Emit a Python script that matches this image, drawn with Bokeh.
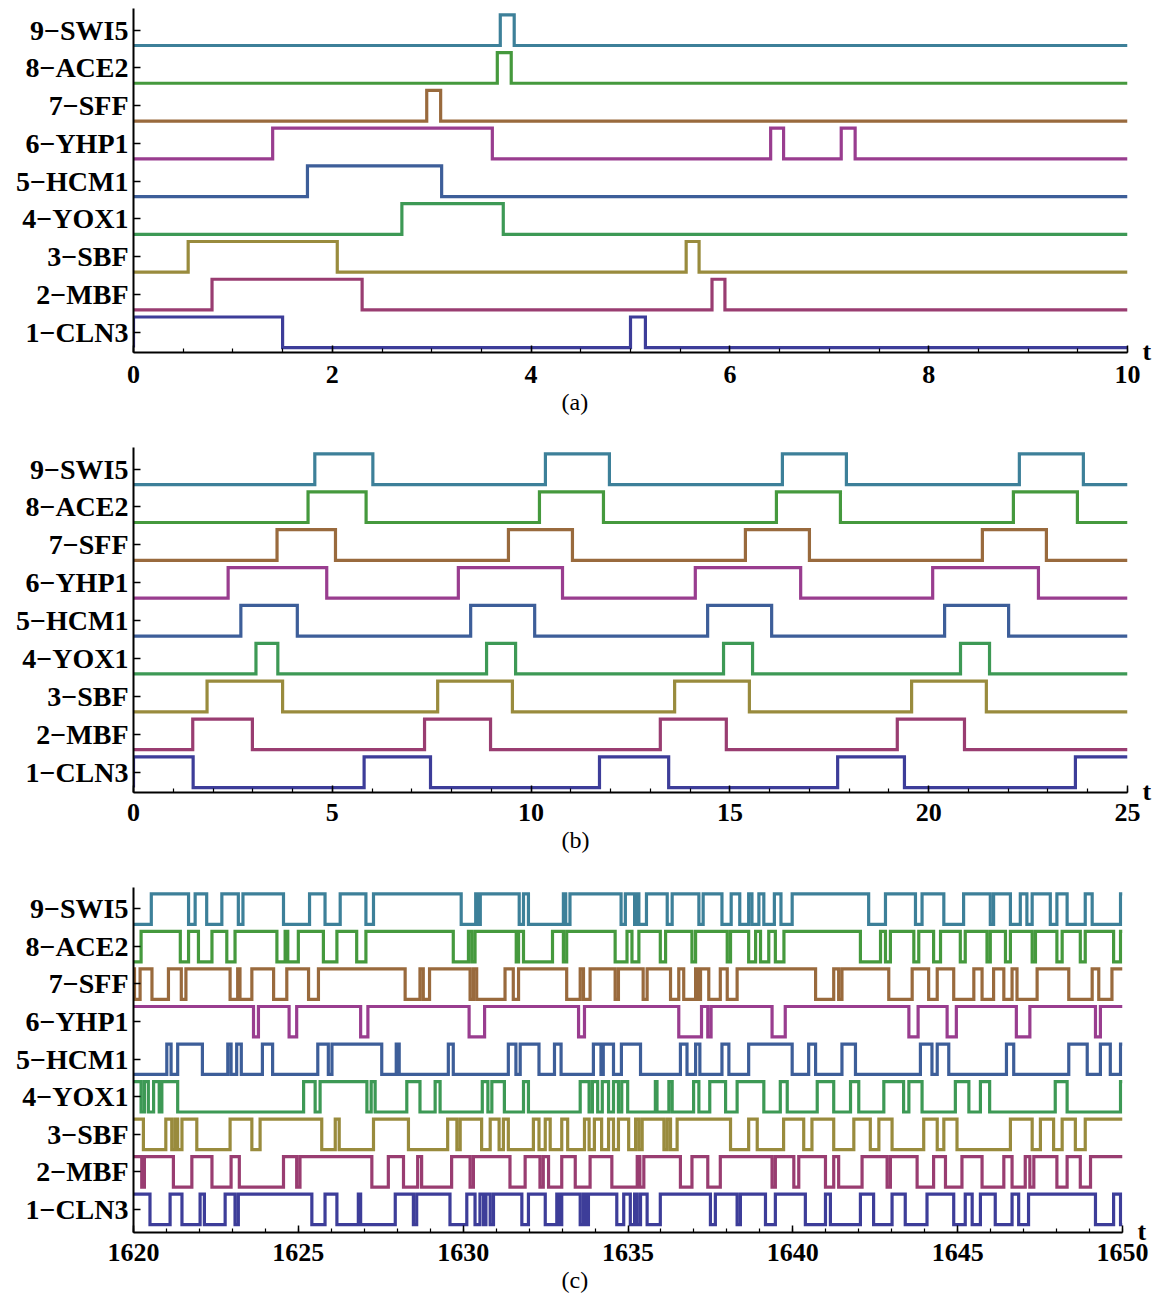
from bokeh.plotting import figure
from bokeh.models import Range1d, FixedTicker, Title, LinearAxis, PrintfTickFormatter
from bokeh.layouts import column
from bokeh.embed import file_html
from bokeh.resources import INLINE

# ---------------- data ----------------
gene_labels = ["1\u2212CLN3", "2\u2212MBF", "3\u2212SBF", "4\u2212YOX1", "5\u2212HCM1",
               "6\u2212YHP1", "7\u2212SFF", "8\u2212ACE2", "9\u2212SWI5"]
gene_colors = ["#3d3d99", "#993d71", "#998b3d", "#3d9955", "#3d5e99",
               "#993d8f", "#996a3d", "#45993d", "#3d8099"]

# panel (a): initial states and switching times (t in 0..10)
a_init = [1, 0, 0, 0, 0, 0, 0, 0, 0]
a_switch = [
    [1.50, 5.00, 5.15],
    [0.79, 2.30, 5.82, 5.95],
    [0.55, 2.05, 5.56, 5.69],
    [2.70, 3.72],
    [1.75, 3.10],
    [1.40, 3.61, 6.41, 6.54, 7.12, 7.26],
    [2.95, 3.09],
    [3.66, 3.80],
    [3.69, 3.83],
]

# panel (b): t in 0..25
b_init = [1, 0, 0, 0, 0, 0, 0, 0, 0]
b_switch = [
    [1.50, 5.80, 7.47, 11.72, 13.46, 17.71, 19.39, 23.69],
    [1.49, 2.99, 7.32, 8.98, 13.25, 14.91, 19.21, 20.90],
    [1.85, 3.75, 7.65, 9.53, 13.61, 15.49, 19.57, 21.45],
    [3.08, 3.63, 8.88, 9.61, 14.84, 15.57, 20.80, 21.53],
    [2.70, 4.12, 8.48, 10.09, 14.44, 16.05, 20.40, 22.01],
    [2.38, 4.86, 8.17, 10.79, 14.13, 16.78, 20.10, 22.76],
    [3.61, 5.08, 9.43, 11.04, 15.39, 17.00, 21.35, 22.96],
    [4.39, 5.85, 10.21, 11.82, 16.17, 17.78, 22.13, 23.74],
    [4.56, 6.02, 10.36, 11.97, 16.32, 17.93, 22.28, 23.89],
]

# panel (c): t in 1620..1650
c_init = [1, 1, 1, 1, 0, 1, 1, 0, 0]
c_switch = [
    # CLN3
    [1620.50, 1621.11, 1621.47, 1622.02, 1622.15, 1622.78, 1623.08, 1623.18, 1625.41, 1625.81,
     1626.17, 1626.82, 1626.89, 1627.94, 1628.49, 1628.59, 1629.60, 1630.11, 1630.36, 1630.51,
     1630.62, 1630.69, 1630.82, 1630.92, 1631.78, 1631.98, 1632.49, 1632.84, 1632.91, 1632.99,
     1633.55, 1633.65, 1633.72, 1633.80, 1634.66, 1634.87, 1635.07, 1635.20, 1635.28, 1635.38,
     1635.58, 1635.98, 1637.50, 1637.65, 1638.31, 1638.41, 1639.17, 1639.47, 1640.38, 1640.99,
     1641.14, 1642.05, 1642.45, 1643.01, 1643.41, 1644.07, 1644.88, 1645.23, 1645.44, 1645.69,
     1646.14, 1646.65, 1646.85, 1647.15, 1649.18, 1649.73, 1649.94],
    # MBF
    [1620.25, 1620.33, 1621.21, 1621.77, 1622.38, 1622.96, 1623.21, 1624.55, 1624.95, 1625.05,
     1627.23, 1627.73, 1628.19, 1628.62, 1628.74, 1629.65, 1630.21, 1630.31, 1631.42, 1631.88,
     1632.33, 1632.43, 1632.59, 1632.99, 1633.40, 1633.85, 1634.51, 1635.28, 1635.36, 1635.48,
     1636.59, 1636.94, 1637.42, 1637.80, 1639.37, 1639.47, 1640.03, 1640.18, 1640.99, 1641.24,
     1641.39, 1642.10, 1642.86, 1642.96, 1643.77, 1644.27, 1644.63, 1645.13, 1645.74, 1646.40,
     1646.65, 1647.05, 1647.19, 1647.31, 1648.01, 1648.32, 1648.72, 1649.03],
    # SBF
    [1620.30, 1620.98, 1621.16, 1621.26, 1621.34, 1621.47, 1621.92, 1622.93, 1623.59, 1623.84,
     1625.71, 1626.12, 1626.24, 1627.28, 1628.34, 1629.53, 1629.81, 1629.91, 1630.56, 1630.82,
     1631.09, 1631.22, 1631.37, 1632.13, 1632.30, 1632.49, 1632.64, 1632.99, 1633.17, 1633.68,
     1633.82, 1633.98, 1634.20, 1634.41, 1634.56, 1634.71, 1635.02, 1635.23, 1635.33, 1635.43,
     1636.09, 1636.19, 1636.29, 1636.49, 1638.11, 1638.66, 1638.92, 1639.72, 1640.33, 1640.58,
     1641.24, 1641.85, 1642.35, 1642.61, 1643.01, 1643.97, 1644.38, 1644.58, 1644.98, 1646.60,
     1647.26, 1647.51, 1647.91, 1648.17, 1648.57, 1648.87],
    # YOX1
    [1620.23, 1620.33, 1620.45, 1620.61, 1620.78, 1620.86, 1621.34, 1625.16, 1625.51, 1625.66,
     1627.08, 1627.21, 1627.33, 1628.29, 1628.69, 1629.15, 1629.30, 1630.58, 1630.75, 1630.87,
     1631.25, 1631.83, 1631.98, 1633.55, 1633.82, 1633.92, 1634.08, 1634.22, 1634.41, 1634.56,
     1634.71, 1634.81, 1634.99, 1635.83, 1635.88, 1636.24, 1636.34, 1636.99, 1637.15, 1637.48,
     1637.96, 1638.31, 1639.12, 1639.62, 1639.83, 1640.74, 1641.24, 1641.75, 1642.00, 1642.76,
     1643.36, 1643.52, 1643.92, 1644.93, 1645.34, 1645.69, 1645.97, 1647.96, 1648.32, 1649.94],
    # HCM1
    [1621.01, 1621.14, 1621.34, 1622.09, 1622.86, 1622.96, 1623.13, 1623.27, 1623.91, 1624.22,
     1625.59, 1625.91, 1626.02, 1627.53, 1627.97, 1628.06, 1629.55, 1629.70, 1631.37, 1631.60,
     1631.73, 1632.30, 1632.77, 1632.97, 1633.95, 1634.18, 1634.25, 1634.56, 1634.80, 1635.38,
     1636.59, 1636.79, 1637.05, 1637.18, 1637.85, 1638.06, 1638.66, 1639.98, 1640.48, 1640.69,
     1641.49, 1641.90, 1643.87, 1644.22, 1644.38, 1644.73, 1646.48, 1646.70, 1648.37, 1648.93,
     1649.33, 1649.63, 1649.94],
    # YHP1
    [1623.64, 1623.79, 1624.72, 1624.95, 1626.89, 1627.11, 1630.18, 1630.65, 1633.50, 1633.68,
     1636.54, 1637.23, 1637.42, 1637.52, 1639.37, 1639.77, 1643.52, 1643.80, 1644.68, 1644.96,
     1646.78, 1647.19, 1649.18, 1649.33],
    # SFF
    [1620.03, 1620.20, 1620.56, 1621.06, 1621.45, 1621.59, 1622.93, 1623.16, 1623.23, 1623.59,
     1624.25, 1624.65, 1625.31, 1625.61, 1628.24, 1628.69, 1628.79, 1628.98, 1630.21, 1630.31,
     1630.41, 1631.27, 1631.52, 1631.68, 1633.14, 1633.55, 1633.65, 1633.85, 1634.61, 1634.71,
     1635.46, 1635.58, 1636.29, 1636.54, 1636.69, 1637.05, 1637.12, 1637.20, 1637.45, 1637.80,
     1638.01, 1638.31, 1640.69, 1641.24, 1641.39, 1641.49, 1642.91, 1643.62, 1644.12, 1644.38,
     1644.88, 1645.49, 1645.74, 1646.09, 1646.40, 1646.65, 1646.80, 1647.41, 1648.37, 1649.08,
     1649.28, 1649.68],
    # ACE2
    [1620.23, 1621.42, 1621.67, 1621.97, 1622.38, 1622.83, 1623.08, 1624.35, 1624.60, 1624.68,
     1625.00, 1625.76, 1626.17, 1626.77, 1627.05, 1629.70, 1630.16, 1630.26, 1630.36, 1631.61,
     1631.68, 1631.83, 1632.71, 1633.04, 1633.14, 1634.61, 1634.97, 1635.12, 1635.33, 1635.98,
     1636.14, 1636.94, 1637.05, 1638.01, 1638.11, 1638.66, 1638.87, 1639.02, 1639.27, 1639.47,
     1639.73, 1642.05, 1642.66, 1642.81, 1642.96, 1643.67, 1643.82, 1644.27, 1644.48, 1645.08,
     1645.23, 1645.89, 1645.99, 1646.45, 1646.60, 1647.26, 1647.36, 1648.01, 1648.17, 1648.72,
     1648.87, 1649.73, 1649.94],
    # SWI5
    [1620.54, 1621.67, 1621.87, 1622.22, 1622.68, 1623.18, 1623.32, 1624.55, 1625.34, 1625.81,
     1626.27, 1627.05, 1627.28, 1629.94, 1630.38, 1630.44, 1630.52, 1631.70, 1631.83, 1631.98,
     1633.04, 1633.11, 1633.24, 1634.79, 1634.92, 1635.20, 1635.26, 1635.33, 1635.56, 1636.19,
     1636.34, 1637.15, 1637.28, 1637.85, 1638.13, 1638.39, 1638.66, 1638.76, 1638.97, 1639.12,
     1639.44, 1639.64, 1639.98, 1642.30, 1642.81, 1643.72, 1643.92, 1644.58, 1645.18, 1645.99,
     1646.09, 1646.60, 1646.90, 1647.10, 1647.26, 1647.81, 1648.01, 1648.32, 1648.87, 1649.08,
     1649.94],
]

a_major = [0, 2, 4, 6, 8, 10]
b_major = [0, 5, 10, 15, 20, 25]
c_major = [1620, 1625, 1630, 1635, 1640, 1645, 1650]

# ---------------- drawing ----------------
BASE = 0.41   # baseline below the label tick
AMP = 0.81    # height of the "on" level
SERIF = "Liberation Serif"


def step_xy(init, toggles, t0, t1, start_vertical):
    xs, ys = [], []
    s = init
    if start_vertical and init == 1:
        xs.append(t0)
        ys.append(0)
    xs.append(t0)
    ys.append(s)
    for t in toggles:
        xs += [t, t]
        ys += [s, 1 - s]
        s = 1 - s
    xs.append(t1)
    ys.append(s)
    return xs, ys


def make_panel(t0, t1, majors, minor_step, inits, switches, caption, frame_w, frame_h,
               y0, b_top, b_bottom, x_standoff, start_vertical):
    p = figure(frame_width=frame_w, frame_height=frame_h,
               x_range=Range1d(t0, t1), y_range=Range1d(y0, 9.57),
               output_backend="svg", toolbar_location=None,
               min_border_left=133, min_border_right=26,
               min_border_top=b_top, min_border_bottom=b_bottom)
    p.grid.visible = False
    p.outline_line_color = None
    p.background_fill_color = "white"
    p.border_fill_color = "white"

    for k in range(9):
        xs, ys = step_xy(inits[k], switches[k], t0, t1, start_vertical)
        yy = [(k + 1) - BASE + AMP * v for v in ys]
        p.line(xs, yy, line_color=gene_colors[k], line_width=3.2, line_join="miter")

    # x axis
    n_minor = int(round((t1 - t0) / minor_step))
    minors = [t0 + i * minor_step for i in range(n_minor + 1)]
    p.xaxis.ticker = FixedTicker(ticks=majors, minor_ticks=minors)
    p.xaxis.axis_line_width = 2
    p.xaxis.axis_line_color = "black"
    p.xaxis.major_tick_in = 7
    p.xaxis.major_tick_out = 0
    p.xaxis.minor_tick_in = 4
    p.xaxis.minor_tick_out = 0
    p.xaxis.major_tick_line_width = 1.5
    p.xaxis.minor_tick_line_width = 1.2
    p.xaxis.major_label_text_font = SERIF
    p.xaxis.major_label_text_font_style = "bold"
    p.xaxis.major_label_text_font_size = "26px"
    p.xaxis.major_label_text_color = "black"
    p.xaxis.major_label_standoff = x_standoff

    # y axis
    p.yaxis.ticker = FixedTicker(ticks=list(range(1, 10)), minor_ticks=[])
    p.yaxis.major_label_overrides = {i + 1: gene_labels[i] for i in range(9)}
    p.yaxis.axis_line_width = 2
    p.yaxis.axis_line_color = "black"
    p.yaxis.major_tick_in = 7
    p.yaxis.major_tick_out = 0
    p.yaxis.major_tick_line_width = 1.5
    p.yaxis.minor_tick_in = 0
    p.yaxis.minor_tick_out = 0
    p.yaxis.major_label_text_font = SERIF
    p.yaxis.major_label_text_font_style = "bold"
    p.yaxis.major_label_text_font_size = "28px"
    p.yaxis.major_label_text_color = "black"
    p.yaxis.major_label_standoff = 5

    # "t" at the end of the time axis (a one-tick axis on the right)
    t_axis = LinearAxis(ticker=FixedTicker(ticks=[y0 + 0.02], minor_ticks=[]),
                        formatter=PrintfTickFormatter(format="t"),
                        axis_line_color=None, major_tick_line_color=None,
                        minor_tick_line_color=None, major_label_standoff=9,
                        major_label_text_font=SERIF, major_label_text_font_style="bold",
                        major_label_text_font_size="26px", major_label_text_color="black")
    p.add_layout(t_axis, "right")

    # caption below the panel, centred on the page
    p.add_layout(Title(text=caption, align="left", offset=428, standoff=2,
                       text_font=SERIF, text_font_style="normal",
                       text_font_size="24px", text_color="black"), "below")
    return p


pa = make_panel(0, 10, a_major, 0.5, a_init, a_switch, "(a)", 994, 344,
                0.46, 8, 80, 13, True)
pb = make_panel(0, 25, b_major, 1, b_init, b_switch, "(b)", 994, 345,
                0.46, 15, 80, 11, True)
pc = make_panel(1620, 1650, c_major, 1, c_init, c_switch, "(c)", 989, 345,
                0.38, 15, 62, 11, False)

layout = column(pa, pb, pc, spacing=0)
open("out.html", "w").write(file_html(layout, INLINE))
